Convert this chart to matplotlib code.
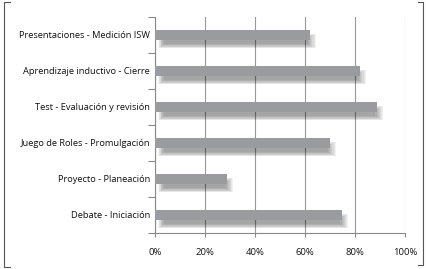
import numpy as np
import matplotlib.pyplot as plt
from matplotlib.lines import Line2D

plt.rcParams['font.family'] = ['Open Sans', 'DejaVu Sans']

categorias = ["Presentaciones - Medición ISW",
              "Aprendizaje inductivo - Cierre",
              "Test - Evaluación y revisión",
              "Juego de Roles - Promulgación",
              "Proyecto - Planeación",
              "Debate - Iniciación"]
valores = [62, 82, 89, 70, 29, 75]
xticks = [0, 20, 40, 60, 80, 100]

fig = plt.figure(figsize=(4.27, 2.69), dpi=100)
ax = fig.add_axes([155/427, 1 - 233/269, 250/427, 216/269])

pos = np.arange(len(categorias))

# sombra difusa bajo cada barra (capas concéntricas semitransparentes)
for i in range(8):
    izq = 3.5 - i * 0.3
    der = np.array(valores) - 0.8 + i * 0.45
    ax.barh(pos + 0.17, der - izq, height=0.16 + i * 0.035, left=izq,
            color='black', alpha=0.05, zorder=2, linewidth=0)
ax.barh(pos, valores, height=0.3, color='#9a9b9f', zorder=3, linewidth=0)

ax.set_xlim(0, 100)
ax.set_ylim(len(categorias) - 0.5, -0.5)

ax.set_xticks(xticks)
ax.set_xticklabels([f"{t}%" for t in xticks], fontsize=6.8, color='#111111',
                   fontweight='medium')
ax.set_yticks(pos)
ax.set_yticklabels(categorias, fontsize=6.7, color='#111111',
                   fontweight='medium')
ax.set_yticks(np.arange(len(categorias) + 1) - 0.5, minor=True)
ax.tick_params(axis='y', which='major', length=0, pad=3.5)
ax.tick_params(axis='y', which='minor', length=5, color='#888888', width=0.8)
ax.tick_params(axis='x', length=3, color='#888888', width=0.8, pad=8)

ax.grid(axis='x', color='#999999', linewidth=0.8, zorder=1)
for s in ['top', 'right']:
    ax.spines[s].set_visible(False)
for s in ['left', 'bottom']:
    ax.spines[s].set_color('#888888')
    ax.spines[s].set_linewidth(0.8)

# corchetes del marco
bc = '#555555'
fig.add_artist(Line2D([10/427, 4/427, 4/427, 10/427],
                      [1 - 2/269, 1 - 2/269, 1 - 267/269, 1 - 267/269],
                      color=bc, linewidth=0.8))
fig.add_artist(Line2D([418/427, 423/427, 423/427, 418/427],
                      [1 - 2/269, 1 - 2/269, 1 - 265/269, 1 - 265/269],
                      color=bc, linewidth=0.8))

fig.savefig("out.png", dpi=100)
